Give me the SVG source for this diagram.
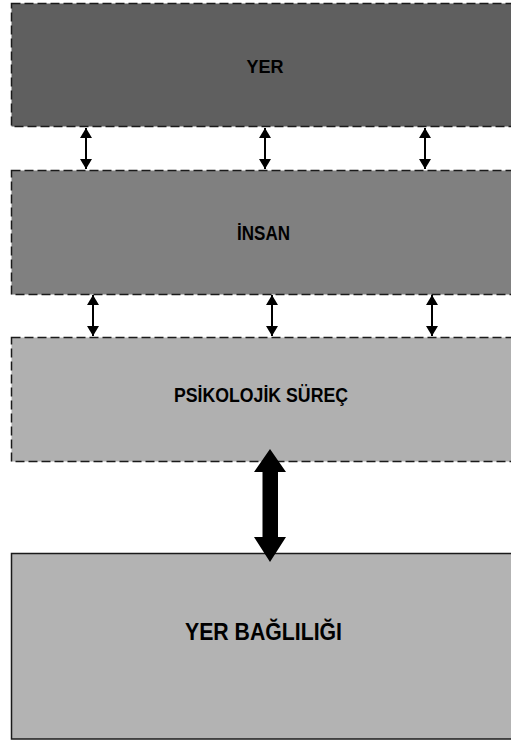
<svg xmlns="http://www.w3.org/2000/svg" width="511" height="743" viewBox="0 0 511 743">
<defs>
<style>
.dash{stroke:#1a1a1a;stroke-width:1.5;stroke-dasharray:9 4}
.lbl{font-family:"Liberation Sans",Arial,sans-serif;font-weight:bold;fill:#000;text-anchor:middle}
.sa{stroke:#000;stroke-width:2;fill:none}
</style>
<marker id="ah" viewBox="0 0 10 12" refX="10" refY="6" markerWidth="10" markerHeight="12" markerUnits="userSpaceOnUse" orient="auto-start-reverse">
<path d="M0,0 L10,6 L0,12 Z" fill="#000"/>
</marker>
</defs>
<rect width="511" height="743" fill="#fff"/>
<g id="yer">
<rect class="dash" x="11.5" y="3.5" width="510" height="123" fill="#5f5f5f"/>
<text class="lbl" x="265" y="73" font-size="19" textLength="37" lengthAdjust="spacingAndGlyphs">YER</text>
</g>
<g id="insan">
<rect class="dash" x="11.5" y="170.5" width="510" height="124" fill="#808080"/>
<text class="lbl" x="263.5" y="240" font-size="20" textLength="53" lengthAdjust="spacingAndGlyphs">İNSAN</text>
</g>
<g id="psikolojik">
<rect class="dash" x="11.5" y="337.5" width="510" height="124" fill="#b0b0b0"/>
<text class="lbl" x="261" y="401.5" font-size="19.5" textLength="174" lengthAdjust="spacingAndGlyphs">PSİKOLOJİK SÜREÇ</text>
</g>
<g id="yerbagliligi">
<rect x="11.5" y="553.5" width="510" height="185.5" fill="#b3b3b3" stroke="#1a1a1a" stroke-width="1.5"/>
<text class="lbl" x="263.5" y="640" font-size="24" textLength="157" lengthAdjust="spacingAndGlyphs">YER BAĞLILIĞI</text>
</g>
<g id="connectors">
<line class="sa" x1="86" y1="128" x2="86" y2="169" marker-start="url(#ah)" marker-end="url(#ah)"/>
<line class="sa" x1="265" y1="128" x2="265" y2="169" marker-start="url(#ah)" marker-end="url(#ah)"/>
<line class="sa" x1="425" y1="128" x2="425" y2="169" marker-start="url(#ah)" marker-end="url(#ah)"/>
<line class="sa" x1="93" y1="295" x2="93" y2="336" marker-start="url(#ah)" marker-end="url(#ah)"/>
<line class="sa" x1="272" y1="295" x2="272" y2="336" marker-start="url(#ah)" marker-end="url(#ah)"/>
<line class="sa" x1="432" y1="295" x2="432" y2="336" marker-start="url(#ah)" marker-end="url(#ah)"/>
<path id="big" d="M270,449 L286,472 L278,472 L278,537 L286,537 L270,562 L254,537 L262.5,537 L262.5,472 L254,472 Z" fill="#000"/>
</g>
</svg>
